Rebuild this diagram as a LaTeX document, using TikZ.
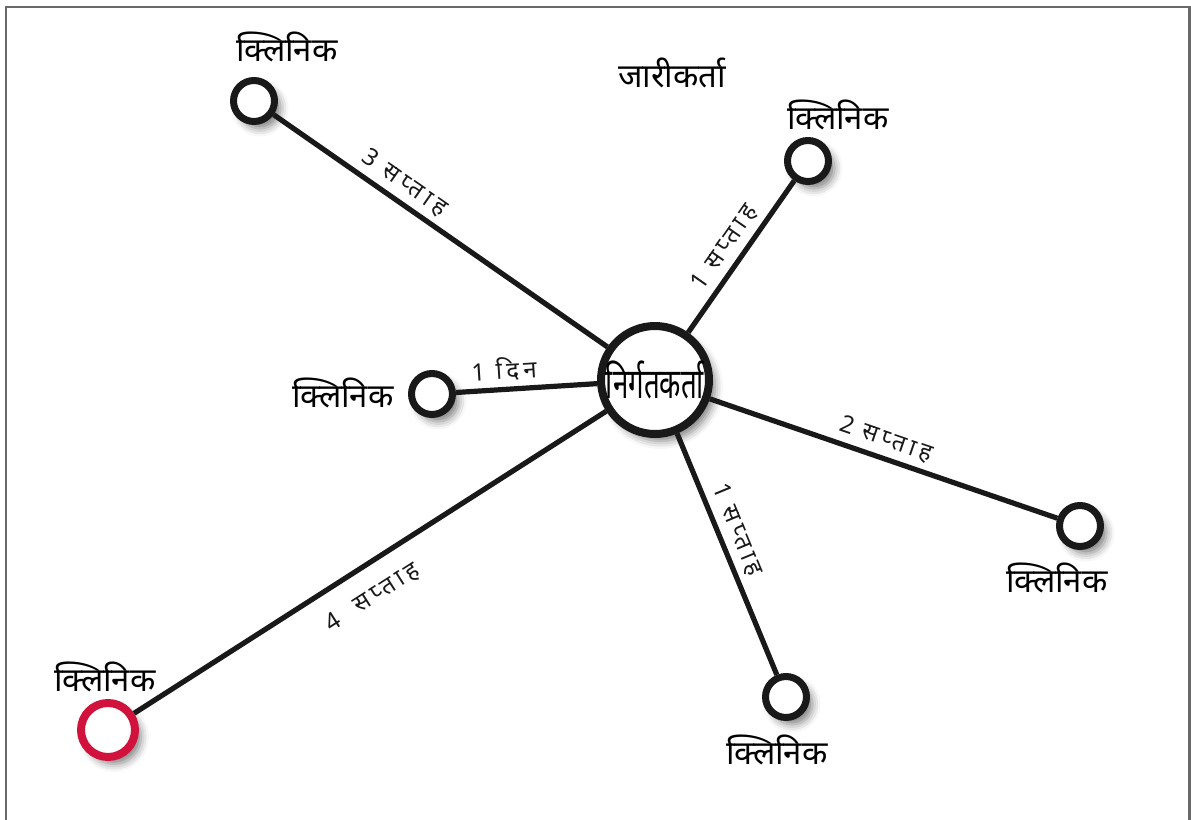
\documentclass[tikz,border=0pt]{standalone}
\usepackage{fontspec}
\setmainfont{Noto Sans}[Script=Devanagari]
\newfontfamily\hubfont{Noto Sans}[Script=Devanagari,FakeStretch=0.66]
\newfontfamily\spacedfont{Noto Sans}[Script=Devanagari,LetterSpace=18]
\usetikzlibrary{shadows.blur}
\definecolor{clinicred}{RGB}{208,18,60}
\definecolor{framegray}{RGB}{105,105,105}

\tikzset{
  clinic/.style={circle,draw=black!90,fill=white,line width=3.5pt,minimum size=20.5pt,inner sep=0pt,
    blur shadow={shadow xshift=3pt,shadow yshift=-3.5pt,shadow blur radius=4pt,shadow opacity=50}},
  redclinic/.style={clinic,draw=clinicred,line width=4pt,minimum size=27pt},
  hub/.style={clinic,line width=4pt,minimum size=54pt},
  place/.style={font=\fontsize{16.5}{19}\selectfont,inner sep=0pt},
  spoke/.style={line width=2.6pt,black!90},
  waittime/.style={font=\spacedfont\fontsize{12}{14}\selectfont,sloped,inner sep=3pt},
}
\newcommand{\gap}{\hspace{5pt}}

\begin{document}
\begin{tikzpicture}[x=0.5pt,y=-0.5pt]
\useasboundingbox (0,0) rectangle (1191,820);
% frame, open at the bottom
\draw[framegray,line width=1.2pt] (6,820) -- (6,7) -- (1189.5,7) -- (1189.5,820);

% hub and the clinics round it
\node[hub,label={center:\hubfont\fontsize{21}{25}\selectfont निर्गतकर्ता}] (hub) at (655,380) {};
\node[clinic] (nw) at (254,101) {};
\node[clinic] (ne) at (808,161) {};
\node[clinic] (w) at (432,394) {};
\node[clinic] (e) at (1080,526) {};
\node[clinic] (s) at (786,697) {};
\node[redclinic] (sw) at (108,730) {};

% names
\node[place] (nwtxt) at (287,47) {क्लिनिक};
\node[place] (netxt) at (838,115) {क्लिनिक};
\node[place] (wtxt) at (343,393) {क्लिनिक};
\node[place] (etxt) at (1057,578) {क्लिनिक};
\node[place] (stxt) at (777,750) {क्लिनिक};
\node[place] (swtxt) at (105,677) {क्लिनिक};
\node[place] (issuer) at (672,73) {जारीकर्ता};

% spokes with waiting times
\draw[spoke] (nw) -- node[waittime,above,pos=.36] {3 सप्ताह} (hub);
\draw[spoke] (hub) -- node[waittime,above,pos=.49] {1\gap सप्ताह} (ne);
\draw[spoke] (w) -- node[waittime,above,pos=.35] {1 दिन} (hub);
\draw[spoke] (hub) -- node[waittime,above,pos=.49] {2\gap सप्ताह} (e);
\draw[spoke] (hub) -- node[waittime,above,pos=.43] {1\gap सप्ताह} (s);
\draw[spoke] (sw) -- node[waittime,below=6pt,pos=.47] {4\gap\gap सप्ताह} (hub);
\end{tikzpicture}
\end{document}
